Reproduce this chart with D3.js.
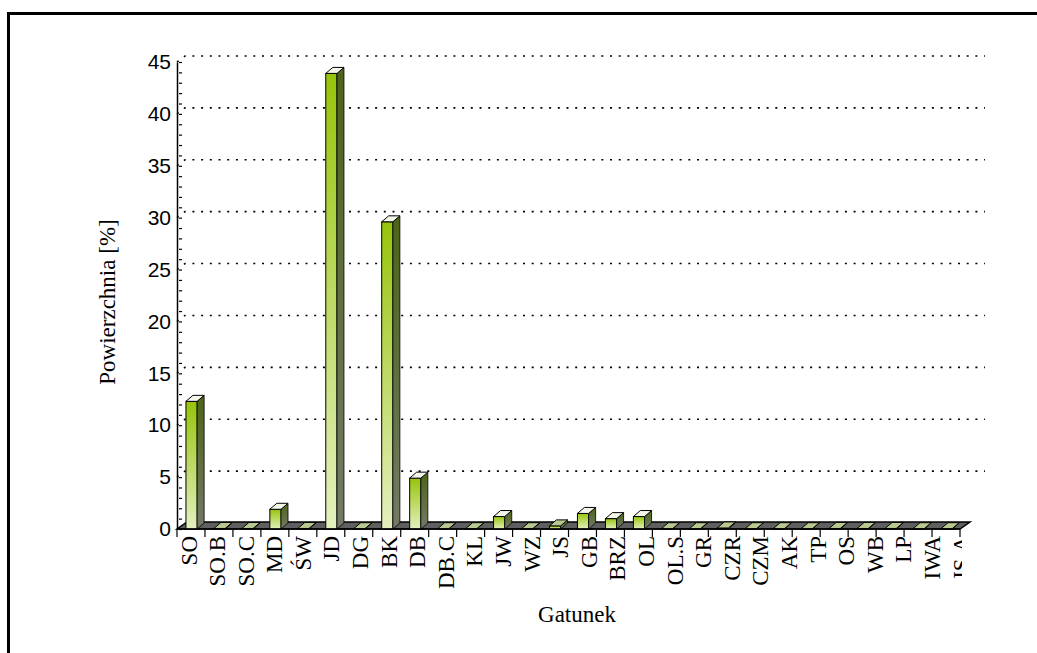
<!DOCTYPE html>
<html>
<head>
<meta charset="utf-8">
<script src="https://cdn.jsdelivr.net/npm/d3@7"></script>
<style>
  body { margin: 0; background: #fff; }
  svg { display: block; }
  .y.axis text { font-family: "Liberation Sans", Arial, sans-serif; font-size: 21px; fill: #000; }
  .y.axis path, .y.axis line { stroke: #000; }
  .cat { font-family: "Liberation Serif", "Times New Roman", serif; font-size: 23px; fill: #000; }
  .title { font-family: "Liberation Serif", "Times New Roman", serif; font-size: 23px; fill: #000; }
</style>
</head>
<body>
<div id="chart"></div>
<script>
var categories = ["SO", "SO.B", "SO.C", "MD", "ŚW", "JD", "DG", "BK", "DB", "DB.C", "KL", "JW", "WZ", "JS",
                  "GB", "BRZ", "OL", "OL.S", "GR", "CZR", "CZM", "AK", "TP", "OS", "WB", "LP", "IWA", "IS.A"];
var values = [12.3, 0.05, 0.05, 1.9, 0.05, 43.9, 0.03, 29.6, 4.9, 0.03, 0.03, 1.2, 0.03, 0.3,
              1.5, 1.0, 1.2, 0.03, 0.03, 0.1, 0.03, 0.03, 0.03, 0.05, 0.05, 0.05, 0.03, 0.03];
var yTicks = [0, 5, 10, 15, 20, 25, 30, 35, 40, 45];

var W = 1037, H = 653;
var plotLeft = 177, plotRight = 960, plotBase = 529, plotTop = 62;
var dx = 7, dy = 6; // 3d depth

var svg = d3.select("#chart").append("svg")
    .attr("width", W)
    .attr("height", H);

var defs = svg.append("defs");
var gFront = defs.append("linearGradient").attr("id", "front").attr("x1", 0).attr("y1", 0).attr("x2", 0).attr("y2", 1);
gFront.append("stop").attr("offset", "0%").attr("stop-color", "#97c40a");
gFront.append("stop").attr("offset", "100%").attr("stop-color", "#e4f0bf");
var gSide = defs.append("linearGradient").attr("id", "side").attr("x1", 0).attr("y1", 0).attr("x2", 0).attr("y2", 1);
gSide.append("stop").attr("offset", "0%").attr("stop-color", "#4b6418");
gSide.append("stop").attr("offset", "100%").attr("stop-color", "#737a66");
defs.append("clipPath").attr("id", "labclip")
  .append("rect").attr("x", 0).attr("y", 0).attr("width", 962).attr("height", H);

// frame
svg.append("rect")
    .attr("x", 8.5).attr("y", 13.5)
    .attr("width", 1040).attr("height", 660)
    .attr("fill", "none")
    .attr("stroke", "#000")
    .attr("stroke-width", 3);

var x = d3.scaleBand()
    .domain(categories)
    .range([plotLeft, plotRight])
    .padding(0);

// labels in the original drift slightly wider than the ticks
var xLab = d3.scalePoint()
    .domain(categories)
    .range([189, 961]);

var y = d3.scaleLinear()
    .domain([0, 45])
    .range([plotBase, plotTop]);

// gridlines on the back wall
var grid = svg.append("g").attr("class", "grid");
yTicks.filter(function(d) { return d > 0; }).forEach(function(t) {
  grid.append("path")
      .attr("d", "M" + plotLeft + "," + y(t) + "L" + (plotLeft + dx + 1) + "," + (y(t) - dy) + "L985," + (y(t) - dy))
      .attr("fill", "none")
      .attr("stroke", "#000")
      .attr("stroke-width", 1.6)
      .attr("stroke-dasharray", "2,6.7");
});

// floor
svg.append("path")
    .attr("d", "M" + plotLeft + "," + plotBase + "L" + plotRight + "," + plotBase +
               "L" + (plotRight + dx + 3) + "," + (plotBase - dy - 1) +
               "L" + (plotLeft + dx + 3) + "," + (plotBase - dy - 1) + "Z")
    .attr("fill", "#5f5f5f")
    .attr("stroke", "#000")
    .attr("stroke-width", 1.5);

// bars
var bw = x.bandwidth() * 0.4;
var off = x.bandwidth() * 0.32;
var bars = svg.selectAll(".bar")
    .data(values)
  .enter().append("g")
    .attr("class", "bar");

bars.append("rect")
    .attr("x", function(d, i) { return x(categories[i]) + off; })
    .attr("y", function(d) { return y(d); })
    .attr("width", bw)
    .attr("height", function(d) { return plotBase - y(d); })
    .attr("fill", "url(#front)")
    .attr("stroke", "#000")
    .attr("stroke-width", 1);

bars.append("path")
    .attr("d", function(d, i) {
      var x1 = x(categories[i]) + off + bw, yt = y(d);
      return "M" + x1 + "," + yt + "L" + (x1 + dx) + "," + (yt - dy) + "L" + (x1 + dx) + "," + (plotBase - dy) +
             "L" + x1 + "," + plotBase + "Z";
    })
    .attr("fill", "url(#side)")
    .attr("stroke", "#000")
    .attr("stroke-width", 0.8);

bars.append("path")
    .attr("d", function(d, i) {
      var x0 = x(categories[i]) + off, yt = y(d);
      return "M" + x0 + "," + yt + "L" + (x0 + dx) + "," + (yt - dy) + "L" + (x0 + bw + dx) + "," + (yt - dy) +
             "L" + (x0 + bw) + "," + yt + "Z";
    })
    .attr("fill", function(d) { return d < 0.5 ? "#b8c890" : "#f4f6ea"; })
    .attr("stroke", "#000")
    .attr("stroke-width", 1);

// y axis
var yAxis = d3.axisLeft(y)
    .tickValues(d3.range(0, 46))
    .tickSizeInner(-5)
    .tickSizeOuter(0)
    .tickPadding(6)
    .tickFormat(function(d) { return d % 5 === 0 ? d : ""; });

var ya = svg.append("g")
    .attr("class", "y axis")
    .attr("transform", "translate(" + plotLeft + ",0)")
    .call(yAxis);
ya.selectAll(".tick line").attr("x1", 2).attr("stroke-width", 1.2);
ya.select(".domain").attr("stroke-width", 1.5);

// x axis: boundary ticks and labels
var xa = svg.append("g").attr("class", "x axis");
xa.append("line")
    .attr("x1", plotLeft).attr("x2", plotRight)
    .attr("y1", plotBase).attr("y2", plotBase)
    .attr("stroke", "#000").attr("stroke-width", 1.5);
xa.selectAll(".xt")
    .data(d3.range(categories.length + 1))
  .enter().append("line")
    .attr("class", "xt")
    .attr("x1", function(d) { return plotLeft + d * x.step(); })
    .attr("x2", function(d) { return plotLeft + d * x.step(); })
    .attr("y1", plotBase)
    .attr("y2", plotBase + 8)
    .attr("stroke", "#000")
    .attr("stroke-width", 1.2);

xa.append("g")
    .attr("clip-path", "url(#labclip)")
  .selectAll(".cat")
    .data(categories)
  .enter().append("text")
    .attr("class", "cat")
    .attr("transform", function(d) {
      return "translate(" + (xLab(d) + 7.5) + "," + (plotBase + 7) + ") rotate(-90)";
    })
    .attr("text-anchor", "end")
    .text(function(d) { return d; });

// titles
svg.append("text")
    .attr("class", "title")
    .attr("transform", "translate(115,302) rotate(-90)")
    .attr("text-anchor", "middle")
    .text("Powierzchnia [%]");

svg.append("text")
    .attr("class", "title")
    .attr("x", 577)
    .attr("y", 622)
    .attr("text-anchor", "middle")
    .text("Gatunek");
</script>
</body>
</html>
